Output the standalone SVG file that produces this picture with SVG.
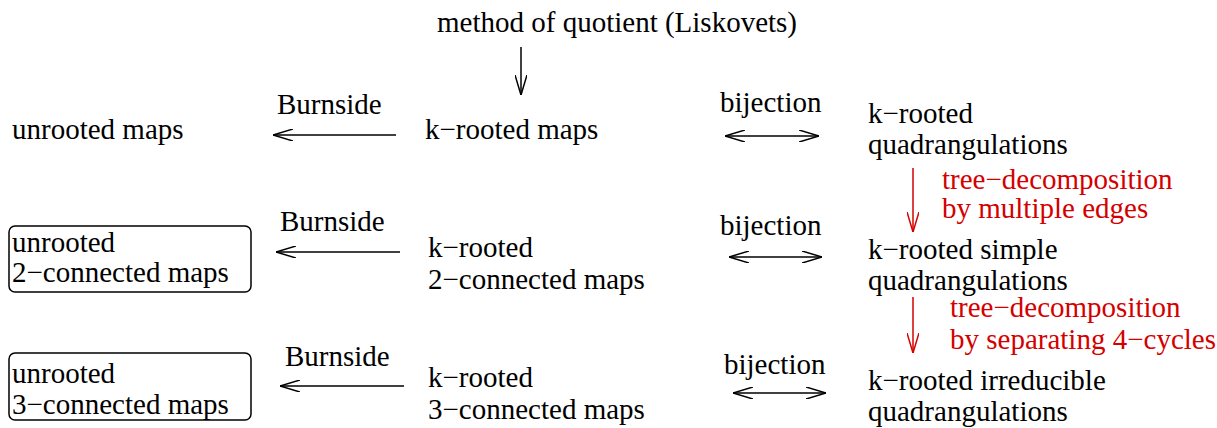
<svg xmlns="http://www.w3.org/2000/svg" width="1217" height="428" viewBox="0 0 1217 428">
<style>
text{font-family:'Liberation Serif','Tinos','Times New Roman','Nimbus Roman','Nimbus Roman No9 L','FreeSerif','DejaVu Serif','Noto Serif',serif;font-size:29px;fill:#000}
text.red{fill:#d40000}
.ln{stroke:#000;stroke-width:1.5;fill:none}
.rl{stroke:#d40000;stroke-width:1.5;fill:none}
.box{stroke:#000;stroke-width:1.5;fill:none}
</style>
<defs>
<marker id="ah" viewBox="0 0 20 12" refX="20" refY="6" markerWidth="20" markerHeight="12" markerUnits="userSpaceOnUse" orient="auto-start-reverse">
<path d="M0,0 L20,6 L0,12" fill="none" stroke="#000" stroke-width="1.5"/>
</marker>
<marker id="ahr" viewBox="0 0 20 12" refX="20" refY="6" markerWidth="20" markerHeight="12" markerUnits="userSpaceOnUse" orient="auto">
<path d="M0,0 L20,6 L0,12" fill="none" stroke="#d40000" stroke-width="1.5"/>
</marker>
</defs>
<g id="method"><text x="437" y="32">method of quotient (Liskovets)</text></g>
<g id="unrooted"><text x="12" y="139">unrooted maps</text></g>
<g id="krooted"><text x="425" y="139">k−rooted maps</text></g>
<g id="kquad"><text x="868" y="123">k−rooted</text><text x="868" y="154">quadrangulations</text></g>
<g id="unrooted2"><rect class="box" x="9" y="226" width="242" height="66" rx="6"/><text x="12" y="252">unrooted</text><text x="12" y="282">2−connected maps</text></g>
<g id="krooted2"><text x="428" y="257">k−rooted</text><text x="428" y="289">2−connected maps</text></g>
<g id="ksimple"><text x="868" y="259">k−rooted simple</text><text x="868" y="290">quadrangulations</text></g>
<g id="unrooted3"><rect class="box" x="9" y="353" width="242" height="67" rx="6"/><text x="12" y="383">unrooted</text><text x="12" y="414">3−connected maps</text></g>
<g id="krooted3"><text x="428" y="387">k−rooted</text><text x="428" y="419">3−connected maps</text></g>
<g id="kirred"><text x="868" y="390">k−rooted irreducible</text><text x="868" y="421">quadrangulations</text></g>
<g id="connectors">
<line class="ln" x1="521" y1="47" x2="521" y2="95" marker-end="url(#ah)"/>
<line class="ln" x1="396" y1="135" x2="273" y2="135" marker-end="url(#ah)"/>
<text x="277" y="114">Burnside</text>
<line class="ln" x1="725" y1="136" x2="819" y2="136" marker-start="url(#ah)" marker-end="url(#ah)"/>
<text x="720" y="112">bijection</text>
<line class="rl" x1="913" y1="168" x2="913" y2="232" marker-end="url(#ahr)"/>
<text class="red" x="942" y="189">tree−decomposition</text>
<text class="red" x="942" y="218">by multiple edges</text>
<line class="ln" x1="400" y1="252" x2="276" y2="252" marker-end="url(#ah)"/>
<text x="280" y="231">Burnside</text>
<line class="ln" x1="729" y1="257" x2="822" y2="257" marker-start="url(#ah)" marker-end="url(#ah)"/>
<text x="720" y="235">bijection</text>
<line class="rl" x1="913" y1="297" x2="913" y2="353" marker-end="url(#ahr)"/>
<text class="red" x="950" y="317">tree−decomposition</text>
<text class="red" x="950" y="349">by separating 4−cycles</text>
<line class="ln" x1="404" y1="386" x2="280" y2="386" marker-end="url(#ah)"/>
<text x="285" y="366">Burnside</text>
<line class="ln" x1="733" y1="393" x2="826" y2="393" marker-start="url(#ah)" marker-end="url(#ah)"/>
<text x="724" y="374">bijection</text>
</g>
</svg>
